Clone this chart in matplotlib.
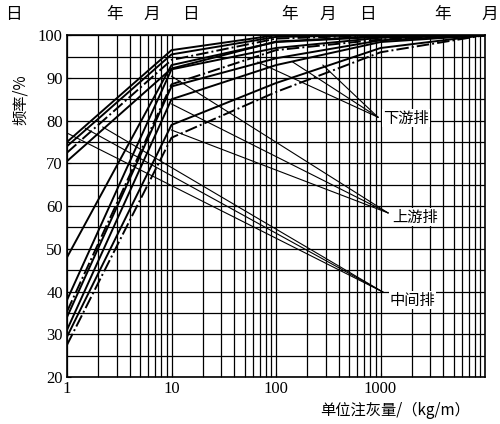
import numpy as np
import matplotlib.pyplot as plt
from matplotlib.ticker import FixedLocator, NullFormatter

plt.rcParams['font.family'] = ['Liberation Serif', 'Noto Sans CJK SC']

# unit grout take (kg/m) where the curves break
x_pts = [1, 10, 100, 1000, 10000]

# cumulative frequency (%) of each curve at x_pts
curves = [
    [75.0, 96.5, 100.0, 100.0, 100.0],
    [74.0, 95.5, 99.6, 100.0, 100.0],
    [72.5, 94.2, 99.2, 100.0, 100.0],
    [70.5, 92.2, 98.5, 99.8, 100.0],
    [48.0, 93.0, 98.4, 99.6, 100.0],
    [38.0, 92.0, 97.0, 99.4, 100.0],
    [35.3, 88.5, 96.5, 99.0, 100.0],
    [34.0, 88.0, 94.6, 98.8, 100.0],
    [31.0, 85.0, 93.0, 98.4, 100.0],
    [29.4, 79.0, 88.8, 97.0, 100.0],
    [27.5, 76.0, 86.7, 96.0, 100.0],
]
styles = ['-', '-', '-.', '-', '-', '-', '-.', '-', '-', '-', '-.']

# labels and the points their leader lines come from
labels = ['下游排', '上游排', '中间排']
label_xy = [(1060, 80.6), (1290, 57.4), (1230, 38.0)]
tip_xy = [(946, 80.8), (1180, 58.4), (1050, 39.9)]
leader_from = [
    [(67, 93.7), (145, 93.7), (281, 93.0)],
    [(10, 90.4), (10, 83.9), (10, 77.8)],
    [(1.0, 77.1), (1.5, 78.2), (2.2, 78.5)],
]

top_words = ['日', '年', '月', '日', '年', '月', '日', '年', '月']
top_px = [13, 115, 152, 190, 290, 328, 367, 443, 490]

fig = plt.figure(figsize=(5.0, 4.24), dpi=100)
ax = fig.add_axes([0.134, 0.111, 0.836, 0.806])

for ys, ls in zip(curves, styles):
    ax.plot(x_pts, ys, color='black', lw=1.4, ls=ls)

for lab, txy, tip, froms in zip(labels, label_xy, tip_xy, leader_from):
    for f in froms:
        ax.plot([f[0], tip[0]], [f[1], tip[1]], color='black', lw=0.8)
    ax.text(txy[0], txy[1], lab, fontsize=11, va='center', ha='left',
            family=['Noto Sans CJK SC'],
            bbox=dict(facecolor='white', edgecolor='none', pad=0.5))

ax.set_xscale('log')
ax.set_xlim(1, 10000)
ax.set_ylim(20, 100)
ax.xaxis.set_major_locator(FixedLocator([1, 10, 100, 1000]))
ax.set_xticklabels(['1', '10', '100', '1000'])
ax.xaxis.set_minor_formatter(NullFormatter())
ax.set_yticks(np.arange(20, 101, 10))
ax.yaxis.set_minor_locator(FixedLocator(np.arange(25, 100, 10)))
ax.grid(True, which='both', color='black', lw=0.9)
ax.set_axisbelow(True)
ax.tick_params(which='both', direction='in', length=3, labelsize=12, pad=3)
for s in ax.spines.values():
    s.set_linewidth(1.2)

for w, px in zip(top_words, top_px):
    fig.text(px / 500, 1 - 14 / 424, w, fontsize=12, ha='center', va='center',
             family=['Noto Sans CJK SC'])

fig.text(20 / 500, 1 - 100 / 424, '频率/%', rotation=90, fontsize=11,
         ha='center', va='center', family=['Noto Sans CJK SC'])
fig.text(395 / 500, 1 - 410 / 424, '单位注灰量/（kg/m）', fontsize=11,
         ha='center', va='center', family=['Noto Sans CJK SC', 'DejaVu Sans'])

fig.savefig('out.png', dpi=100)
